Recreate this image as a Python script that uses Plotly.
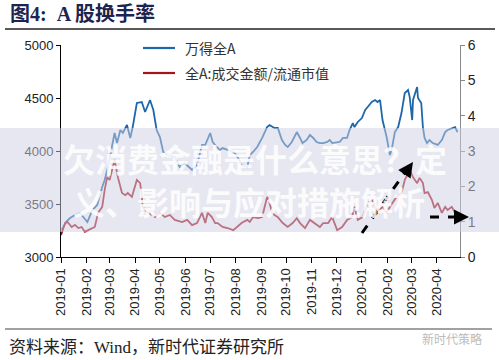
import plotly.graph_objects as go

# ---- data ----
wind_a_dates = ["2019-01-02","2019-01-07","2019-01-12","2019-01-18","2019-01-24","2019-01-28","2019-02-02","2019-02-08",
"2019-02-14","2019-02-20","2019-02-23","2019-02-27","2019-03-04","2019-03-07","2019-03-10","2019-03-14","2019-03-17",
"2019-03-22","2019-03-26","2019-03-29","2019-04-03","2019-04-09","2019-04-13","2019-04-19","2019-04-23","2019-04-27",
"2019-05-01","2019-05-05","2019-05-11","2019-05-19","2019-05-25","2019-05-31","2019-06-09","2019-06-15","2019-06-21",
"2019-06-25","2019-07-01","2019-07-04","2019-07-09","2019-07-13","2019-07-16","2019-07-22","2019-07-29","2019-08-02",
"2019-08-08","2019-08-15","2019-08-18","2019-08-22","2019-08-27","2019-09-02","2019-09-08","2019-09-11","2019-09-17",
"2019-09-21","2019-09-26","2019-09-30","2019-10-03","2019-10-08","2019-10-14","2019-10-18","2019-10-21","2019-10-26",
"2019-10-30","2019-11-03","2019-11-07","2019-11-11","2019-11-15","2019-11-20","2019-11-23","2019-11-26","2019-12-05",
"2019-12-09","2019-12-14","2019-12-17","2019-12-21","2019-12-23","2019-12-27","2020-01-01","2020-01-05","2020-01-08",
"2020-01-13","2020-01-17","2020-01-20","2020-01-23","2020-01-26","2020-01-31","2020-02-04","2020-02-06","2020-02-10",
"2020-02-14","2020-02-18","2020-02-22","2020-02-26","2020-02-28","2020-03-02","2020-03-03","2020-03-08","2020-03-09",
"2020-03-13","2020-03-15","2020-03-17","2020-03-20","2020-03-23","2020-03-27","2020-04-02","2020-04-07","2020-04-11",
"2020-04-14","2020-04-19","2020-04-23","2020-04-26"]
wind_a_values = [3255,3330,3368,3396,3415,3377,3330,3443,
3491,3660,3726,3849,4075,4170,4075,4198,4170,
4245,4123,4226,4453,4462,4368,4481,4387,4198,
4132,3991,3962,3943,3849,3887,3821,3868,4057,
4057,4170,4085,4038,4009,4028,4009,3991,3962,
3868,3849,3962,3991,4038,4123,4226,4245,4217,
4217,4104,4057,4038,4085,4179,4123,4075,4104,
4151,4123,4085,4075,4075,4085,4104,4075,4085,
4123,4123,4198,4264,4226,4274,4311,4387,4415,
4462,4481,4462,4481,4292,4132,3962,4009,4179,
4226,4358,4547,4575,4509,4292,4481,4604,4500,
4453,4226,4123,4075,4104,4075,4057,4104,4179,
4198,4217,4226,4179]

turnover_dates = ["2019-01-01","2019-01-06","2019-01-09","2019-01-14","2019-01-18","2019-01-22","2019-01-26","2019-01-30",
"2019-02-03","2019-02-08","2019-02-11","2019-02-15","2019-02-20","2019-02-23","2019-02-26","2019-03-01","2019-03-04",
"2019-03-07","2019-03-11","2019-03-16","2019-03-20","2019-03-23","2019-03-28","2019-04-03","2019-04-07","2019-04-09",
"2019-04-10","2019-04-15","2019-04-21","2019-04-25","2019-05-01","2019-05-07","2019-05-13","2019-05-19","2019-05-28",
"2019-06-03","2019-06-09","2019-06-15","2019-06-21","2019-06-25","2019-06-28","2019-07-03","2019-07-07","2019-07-10",
"2019-07-16","2019-07-22","2019-07-29","2019-08-02","2019-08-08","2019-08-15","2019-08-18","2019-08-22","2019-08-28",
"2019-09-02","2019-09-08","2019-09-11","2019-09-14","2019-09-17","2019-09-21","2019-09-27","2019-10-03","2019-10-09",
"2019-10-14","2019-10-18","2019-10-24","2019-10-30","2019-11-05","2019-11-11","2019-11-15","2019-11-21","2019-11-26",
"2019-12-02","2019-12-08","2019-12-14","2019-12-20","2019-12-23","2019-12-27","2020-01-02","2020-01-08","2020-01-14",
"2020-01-19","2020-01-26","2020-01-31","2020-02-04","2020-02-12","2020-02-18","2020-02-22","2020-02-26","2020-02-28",
"2020-03-03","2020-03-08","2020-03-11","2020-03-15","2020-03-17","2020-03-21","2020-03-26","2020-03-29","2020-04-02",
"2020-04-07","2020-04-11","2020-04-14","2020-04-19","2020-04-23","2020-04-26"]
turnover_values = [0.62,0.96,0.99,0.85,0.91,0.82,0.85,0.71,
0.76,0.82,0.85,1.25,1.42,1.90,2.26,2.18,2.46,
2.75,2.26,1.81,1.75,1.81,1.70,2.18,2.09,1.75,
1.42,1.27,1.19,1.13,1.25,1.13,1.19,1.05,0.99,
1.05,0.90,0.96,1.25,0.96,1.25,1.13,0.96,0.96,
0.85,0.82,0.76,0.85,0.96,1.05,0.99,1.13,1.10,
1.13,1.70,1.53,1.25,1.19,1.13,0.96,0.85,0.96,
1.10,0.96,0.82,1.05,0.96,0.85,0.96,0.96,1.13,
0.76,0.85,1.05,1.13,1.42,1.05,1.13,1.53,1.60,
1.25,1.42,1.25,1.42,1.70,1.81,2.18,2.38,2.46,
2.26,2.09,2.24,2.09,1.81,1.84,1.61,1.39,1.53,
1.25,1.42,1.33,1.42,1.25,1.27]

series_names = ["万得全A", "全A:成交金额/流通市值"]
title_text = "图4:  A 股换手率"
source_text = "资料来源：Wind，新时代证券研究所"
logo_text = "新时代策略"
watermark_lines = ["欠消费金融是什么意思？定", "义、影响与应对措施解析"]

BLUE = "#1f67a8"
RED = "#a8121f"
SANS = "Liberation Sans, Arial, sans-serif"
CJK = "Noto Sans CJK SC, sans-serif"
SERIF = "Liberation Serif, Noto Sans CJK SC, serif"

fig = go.Figure()
fig.add_trace(go.Scatter(x=wind_a_dates, y=wind_a_values, name=series_names[0], mode="lines",
                         line=dict(color=BLUE, width=1.8), yaxis="y"))
fig.add_trace(go.Scatter(x=turnover_dates, y=turnover_values, name=series_names[1], mode="lines",
                         line=dict(color=RED, width=1.8), yaxis="y2"))

L, R, T, B = 61, 39, 45, 103
W, H = 499, 360
PW, PH = W - L - R, H - T - B
def px(x): return (x - L) / PW
def py(y): return (H - B - y) / PH

shapes = [
    dict(type="line", xref="paper", yref="paper", x0=px(5), x1=px(495), y0=py(29), y1=py(29),
         line=dict(color="#222", width=1.5)),
    dict(type="line", xref="paper", yref="paper", x0=px(5), x1=px(492), y0=py(329), y1=py(329),
         line=dict(color="#444", width=1.2)),
    # legend samples
    dict(type="line", xref="paper", yref="paper", x0=px(143), x1=px(175), y0=py(48), y1=py(48),
         line=dict(color=BLUE, width=2.2)),
    dict(type="line", xref="paper", yref="paper", x0=px(143), x1=px(175), y0=py(73), y1=py(73),
         line=dict(color=RED, width=2.2)),
    # watermark band
    dict(type="rect", xref="paper", yref="paper", x0=px(0), x1=px(499), y0=py(232), y1=py(128),
         fillcolor="rgba(205,208,228,0.5)", line=dict(width=0), layer="above"),
    # dashed arrows
    dict(type="line", xref="paper", yref="paper", x0=px(362), y0=py(233), x1=px(406), y1=py(171),
         line=dict(color="black", width=3, dash="dash"), layer="above"),
    dict(type="line", xref="paper", yref="paper", x0=px(430), y0=py(217), x1=px(460), y1=py(217),
         line=dict(color="black", width=3, dash="dash"), layer="above"),
]

annotations = [
    dict(xref="paper", yref="paper", x=px(8), y=py(14), xanchor="left", yanchor="middle",
         text="<b>" + title_text + "</b>", showarrow=False,
         font=dict(family=SERIF, size=20, color="#1c2450")),
    dict(xref="paper", yref="paper", x=px(183), y=py(48), xanchor="left", yanchor="middle",
         text=series_names[0], showarrow=False, font=dict(family=CJK, size=14, color="#333")),
    dict(xref="paper", yref="paper", x=px(183), y=py(73), xanchor="left", yanchor="middle",
         text=series_names[1], showarrow=False, font=dict(family=CJK, size=14, color="#333")),
    dict(xref="paper", yref="paper", x=px(7), y=py(347), xanchor="left", yanchor="middle",
         text=source_text, showarrow=False, font=dict(family=SERIF, size=17, color="#222")),
    dict(xref="paper", yref="paper", x=px(452), y=py(338), xanchor="center", yanchor="middle",
         text=logo_text, showarrow=False, font=dict(family=CJK, size=12, color="#bbbbbb")),
    dict(xref="paper", yref="paper", x=px(255), y=py(158), xanchor="center", yanchor="middle",
         text=watermark_lines[0], showarrow=False,
         font=dict(family=CJK, size=32, color="rgba(255,255,255,0.85)", weight="bold")),
    dict(xref="paper", yref="paper", x=px(249), y=py(201), xanchor="center", yanchor="middle",
         text=watermark_lines[1], showarrow=False,
         font=dict(family=CJK, size=32, color="rgba(255,255,255,0.85)", weight="bold")),
    dict(xref="paper", yref="paper", x=px(413), y=py(162), text="", showarrow=True,
         ax=-7, ay=10, arrowhead=2, arrowsize=1, arrowwidth=3, arrowcolor="black"),
    dict(xref="paper", yref="paper", x=px(469), y=py(217), text="", showarrow=True,
         ax=-12, ay=0, arrowhead=2, arrowsize=1, arrowwidth=3, arrowcolor="black"),
]

fig.update_layout(
    width=W, height=H, autosize=False,
    margin=dict(l=L, r=R, t=T, b=B, pad=0, autoexpand=False),
    paper_bgcolor="white", plot_bgcolor="white",
    showlegend=False,
    xaxis=dict(type="date", range=["2019-01-01", "2020-04-29"], dtick="M1", tick0="2019-01-01",
               tickformat="%Y-%m", tickangle=-90, showgrid=False, zeroline=False,
               showline=True, linecolor="black", linewidth=1, ticks="outside", ticklen=5,
               tickcolor="black", tickfont=dict(family=SANS, size=13, color="#222"), automargin=False),
    yaxis=dict(range=[3000, 5000], dtick=500, showgrid=False, zeroline=False,
               showline=True, linecolor="black", linewidth=1, ticks="outside", ticklen=4,
               tickcolor="black", tickfont=dict(family=SANS, size=13, color="#222"), automargin=False),
    yaxis2=dict(range=[0, 6], dtick=1, overlaying="y", side="right", showgrid=False, zeroline=False,
                showline=True, linecolor="#888", linewidth=1, ticks="outside", ticklen=4,
                tickcolor="#888", tickfont=dict(family=SANS, size=14, color="#222"), automargin=False),
    shapes=shapes, annotations=annotations,
)

fig.write_html("out.html", post_script="document.body.style.margin='0';",
               config={"displayModeBar": False})
